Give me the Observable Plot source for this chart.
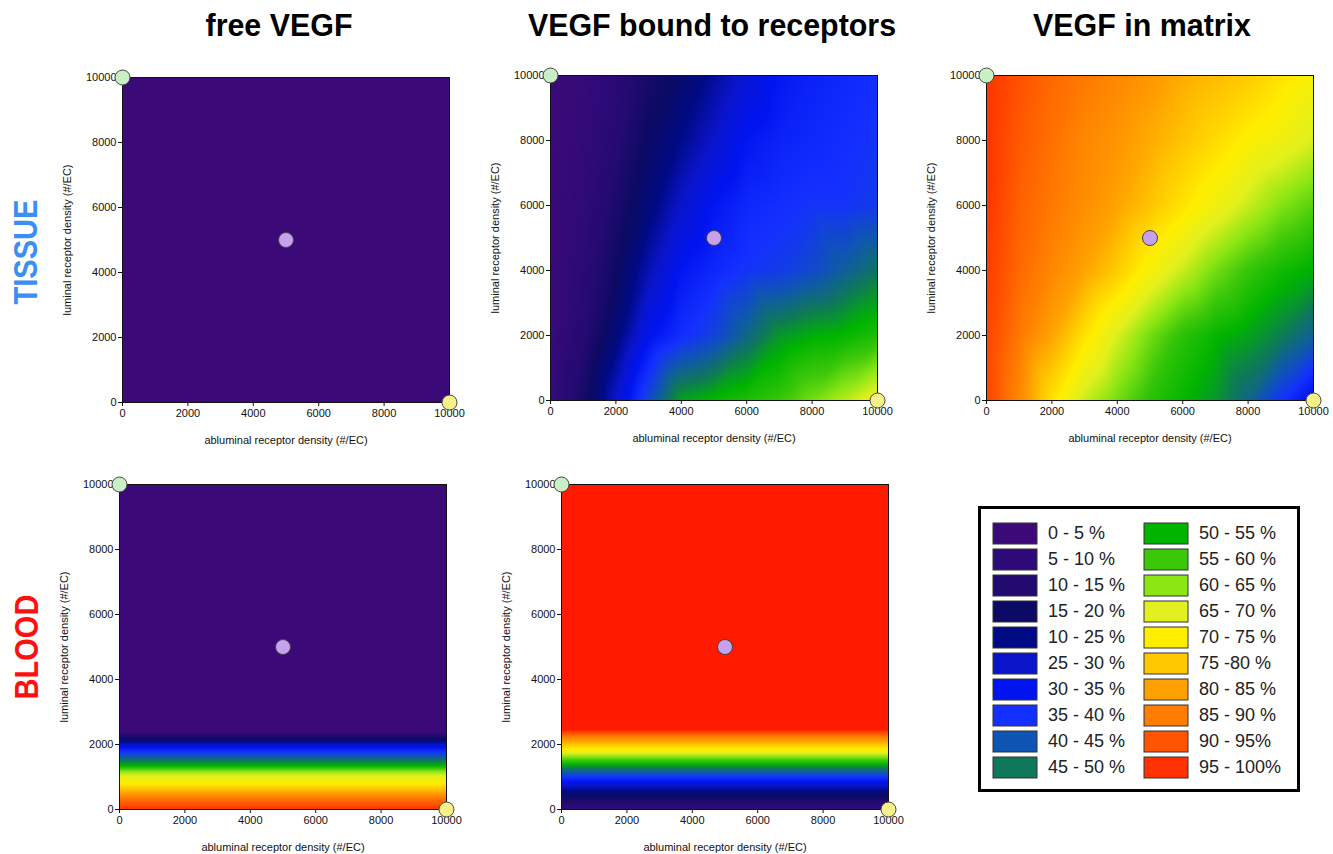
<!DOCTYPE html>
<html>
<head>
<meta charset="utf-8">
<script src="https://cdn.jsdelivr.net/npm/d3@7"></script>
<script src="https://cdn.jsdelivr.net/npm/@observablehq/plot@0.6"></script>
<style>
  body { margin: 0; background: #fff; font-family: "Liberation Sans", Arial, sans-serif; }
  #root { position: relative; width: 1333px; height: 854px; overflow: hidden; background: #fff; }
  .title { position: absolute; top: 9px; font-weight: bold; font-size: 32px; line-height: 32px; white-space: nowrap; color: #000;
           transform: translateX(-50%) scaleX(0.95); }
  .rowlab { position: absolute; font-weight: bold; font-size: 33px; line-height: 33px; white-space: nowrap;
            transform: translate(-50%, -50%) rotate(-90deg) scaleX(0.88); }
  .panel { position: absolute; }
  .panel svg { overflow: visible; }
  #legendBox { position: absolute; left: 978px; top: 506px; width: 322px; height: 286px; box-sizing: border-box; border: 3px solid #000; background: #fff; }
  #legend { position: absolute; left: 12px; top: 14px; }
  .lg-swatches { font-family: "Liberation Sans", Arial, sans-serif !important; font-size: 18px !important; color: #222; width: 302px; column-gap: 0; margin: 0 !important; }
  .lg-swatch { padding-bottom: 5px !important; }
  .lg-swatch > svg { margin-right: 11px !important; overflow: visible; }
  .lg-swatch rect { stroke: #333; stroke-width: 1px; }
</style>
</head>
<body>
<div id="root"></div>
<script>
// ---------- data ----------
const columnTitles = ["free VEGF", "VEGF bound to receptors", "VEGF in matrix"];
const rowLabels = ["TISSUE", "BLOOD"];
const xLabel = "abluminal receptor density (#/EC)";
const yLabel = "luminal receptor density (#/EC)";
const densityTicks = [0, 2000, 4000, 6000, 8000, 10000];

// legend bins (percent) and colours
const legendLabels = ["0 - 5 %", "5 - 10 %", "10 - 15 %", "15 - 20 %", "10 - 25 %", "25 - 30 %", "30 - 35 %", "35 - 40 %", "40 - 45 %", "45 - 50 %",
                      "50 - 55 %", "55 - 60 %", "60 - 65 %", "65 - 70 %", "70 - 75 %", "75 -80 %", "80 - 85 %", "85 - 90 %", "90 - 95%", "95 - 100%"];
const legendLow = [0, 5, 10, 15, 20, 25, 30, 35, 40, 45, 50, 55, 60, 65, 70, 75, 80, 85, 90, 95];
const legendColors = ["#3c0a78", "#2e0a78", "#220a70", "#0c0a64", "#000a84", "#0a14c8", "#0014f0", "#1430ff", "#0f55b4", "#0f785a",
                      "#00b400", "#3cc80a", "#8ce614", "#e1f01e", "#ffee00", "#ffc800", "#ffa000", "#ff7d00", "#ff5500", "#ff3200"];

// grid coordinates for the 2-D maps
const gridX = [0, 1000, 2000, 3000, 4000, 5000, 6000, 7000, 8000, 9000, 10000];
const gridY = [0, 2000, 4000, 6000, 8000, 10000];
const cornerX = [0, 10000];
const cornerY = [0, 10000];

// TISSUE - free VEGF (%), uniform
const tissueFreePct = [
  [2, 2],
  [2, 2]
];
// TISSUE - VEGF bound to receptors (%), rows = gridY, cols = gridX
const tissueBoundPct = [
  [5, 15, 28, 41, 51, 53, 55, 57, 61, 65, 70],
  [4, 11, 21, 32, 37, 40, 45, 50, 52, 53, 55],
  [4, 9, 17, 26, 33, 36, 38, 39, 41, 44, 47],
  [4, 7, 14, 21, 28, 33, 36, 37, 38, 38, 39],
  [3, 6, 11, 18, 23, 28, 33, 35, 36, 37, 38],
  [3, 5, 9, 15, 19, 24, 29, 33, 35, 36, 37]
];
// TISSUE - VEGF in matrix (%)
const tissueMatrixPct = [
  [95, 86, 74, 66, 61, 56, 53, 50, 45, 38, 31],
  [95, 88, 82, 74, 67, 61, 56, 53, 51, 48, 44],
  [96, 90, 86, 82, 77, 71, 66, 61, 57, 54, 52],
  [97, 91, 88, 85, 82, 78, 74, 70, 66, 62, 59],
  [97, 92, 89, 86, 84, 81, 78, 75, 72, 70, 67],
  [97, 93, 90, 88, 86, 84, 81, 79, 77, 74, 71]
];
// BLOOD - profiles vs luminal density only
const bloodFreeY   = [0, 350, 600, 850, 1000, 1180, 1340, 1540, 1800, 1950, 2200, 2400, 10000];
const bloodFreePct = [97, 88, 79, 71, 69, 62, 53, 46, 37, 30, 17, 3, 2];
const bloodBoundY   = [0, 100, 410, 715, 970, 1230, 1430, 1640, 1790, 2050, 2250, 2450, 10000];
const bloodBoundPct = [7, 8, 18, 27, 37, 46, 54, 63, 70, 80, 88, 99, 99];

// reference markers
const markerX = [0, 5000, 10000];
const markerY = [10000, 5000, 0];
const markerFill = ["#c8f0c4", "#c8a0f0", "#f6f088"];

// ---------- build ----------
const root = document.getElementById("root");

const colorStops = [0, ...legendLow.map(d => d + 2.5), 100];
const colorRange = [legendColors[0], ...legendColors, "#ff0a00"];
const colorScale = {type: "linear", domain: colorStops, range: colorRange, clamp: true, interpolate: "rgb"};

function gridPoints(xs, ys, rows) {
  const pts = [];
  ys.forEach((y, j) => xs.forEach((x, i) => pts.push({x, y, v: rows[j][i]})));
  return pts;
}
function profilePoints(ys, vals) {
  const pts = [];
  ys.forEach((y, j) => { pts.push({x: cornerX[0], y, v: vals[j]}); pts.push({x: cornerX[1], y, v: vals[j]}); });
  return pts;
}
const markers = markerX.map((x, i) => ({x, y: markerY[i], fill: markerFill[i]}));

const FW = 327, FH = 325, ML = 62, MR = 18, MT = 12, MB = 46;

function panel(points, left, top) {
  const chart = Plot.plot({
    width: ML + FW + MR,
    height: MT + FH + MB,
    marginLeft: ML, marginRight: MR, marginTop: MT, marginBottom: MB,
    style: {fontFamily: "Liberation Sans, Arial, sans-serif", fontSize: "11px", color: "#111", background: "transparent", overflow: "visible"},
    x: {domain: [0, 10000]},
    y: {domain: [0, 10000]},
    color: colorScale,
    marks: [
      Plot.raster(points, {x: "x", y: "y", fill: "v", interpolate: "barycentric", x1: 0, y1: 0, x2: 10000, y2: 10000}),
      Plot.frame({stroke: "#111", strokeWidth: 1}),
      Plot.axisX({ticks: densityTicks, tickFormat: d => String(d), tickSize: 4, tickPadding: 3,
                  label: xLabel, labelAnchor: "center", labelOffset: 41, labelArrow: "none"}),
      Plot.axisY({ticks: densityTicks, tickFormat: d => String(d), tickSize: 4, tickPadding: 2,
                  label: yLabel, labelAnchor: "center", labelOffset: 59, labelArrow: "none"}),
      ...markers.map(m => Plot.dot([m], {x: "x", y: "y", r: 7.5, fill: m.fill, stroke: "#444", strokeWidth: 1}))
    ]
  });
  const div = document.createElement("div");
  div.className = "panel";
  div.style.left = (left - ML) + "px";
  div.style.top = (top - MT) + "px";
  div.appendChild(chart);
  root.appendChild(div);
}

panel(gridPoints(cornerX, cornerY, tissueFreePct), 122, 77);
panel(gridPoints(gridX, gridY, tissueBoundPct), 550, 75);
panel(gridPoints(gridX, gridY, tissueMatrixPct), 986, 75);
panel(profilePoints(bloodFreeY, bloodFreePct), 119, 484);
panel(profilePoints(bloodBoundY, bloodBoundPct), 561, 484);

// titles
const titleX = [279, 712, 1142];
columnTitles.forEach((t, i) => {
  const d = document.createElement("div");
  d.className = "title";
  d.style.left = titleX[i] + "px";
  d.textContent = t;
  root.appendChild(d);
});
const rowPos = [[25, 252, "#3b8ef2"], [26, 647, "#ff1010"]];
rowLabels.forEach((t, i) => {
  const d = document.createElement("div");
  d.className = "rowlab";
  d.style.left = rowPos[i][0] + "px";
  d.style.top = rowPos[i][1] + "px";
  d.style.color = rowPos[i][2];
  d.textContent = t;
  root.appendChild(d);
});

// legend
const box = document.createElement("div");
box.id = "legendBox";
const inner = document.createElement("div");
inner.id = "legend";
inner.appendChild(Plot.legend({
  color: {type: "ordinal", domain: legendLabels, range: legendColors},
  legend: "swatches", columns: 2, swatchWidth: 44, swatchHeight: 21, className: "lg"
}));
box.appendChild(inner);
root.appendChild(box);
</script>
</body>
</html>
